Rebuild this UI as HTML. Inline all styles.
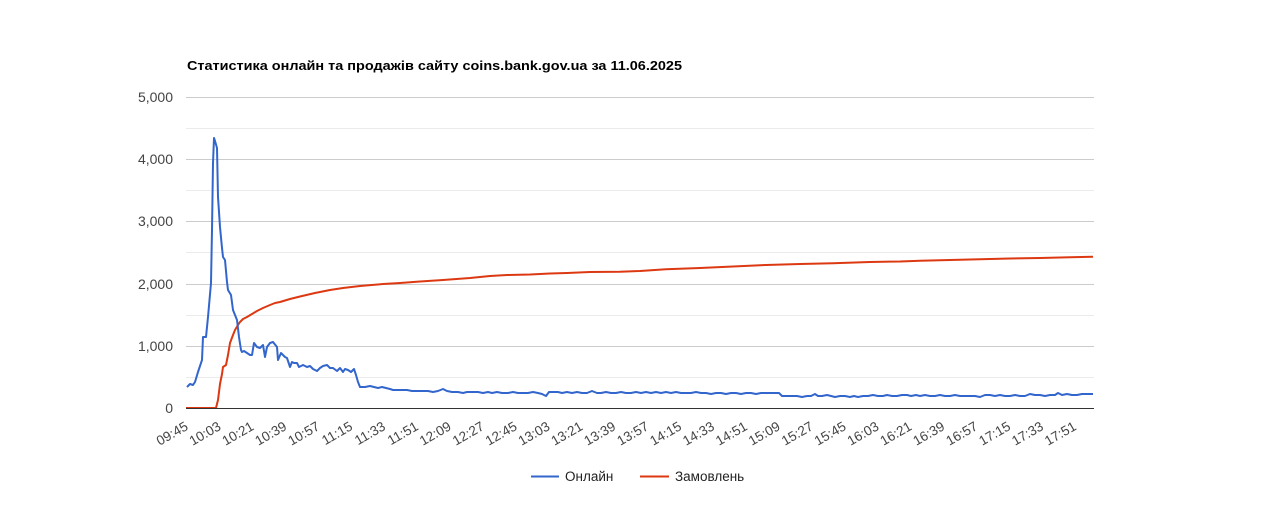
<!DOCTYPE html>
<html><head><meta charset="utf-8"><style>
html,body{margin:0;padding:0;background:#fff;}
svg{display:block;}
text{font-family:"Liberation Sans","Noto Sans CJK SC",Arial,sans-serif;}
</style></head><body>
<svg width="1280" height="505" viewBox="0 0 1280 505" xmlns="http://www.w3.org/2000/svg">
<rect width="1280" height="505" fill="#fff"/>
<text x="187" y="70" font-size="13" font-weight="bold" fill="#000" textLength="495" lengthAdjust="spacingAndGlyphs">Статистика онлайн та продажів сайту coins.bank.gov.ua за 11.06.2025</text>
<g stroke="#ebebeb" stroke-width="1">
<line x1="186" x2="1094" y1="128.5" y2="128.5"/>
<line x1="186" x2="1094" y1="190.5" y2="190.5"/>
<line x1="186" x2="1094" y1="252.5" y2="252.5"/>
<line x1="186" x2="1094" y1="315.5" y2="315.5"/>
<line x1="186" x2="1094" y1="377.5" y2="377.5"/>
</g>
<g stroke="#cccccc" stroke-width="1">
<line x1="186" x2="1094" y1="97.5" y2="97.5"/>
<line x1="186" x2="1094" y1="159.5" y2="159.5"/>
<line x1="186" x2="1094" y1="221.5" y2="221.5"/>
<line x1="186" x2="1094" y1="284.5" y2="284.5"/>
<line x1="186" x2="1094" y1="346.5" y2="346.5"/>
</g>
<g font-size="14" fill="#444" text-anchor="end">
<text x="173" y="102">5,000</text>
<text x="173" y="164">4,000</text>
<text x="173" y="226">3,000</text>
<text x="173" y="289">2,000</text>
<text x="173" y="351">1,000</text>
<text x="173" y="413">0</text>
</g>
<polyline fill="none" stroke="#dc3912" stroke-width="2" stroke-linejoin="round" points="186,408 216,408 218,400 220,384 222,374 223,367 226,365 228,355 230,343 233,335 235,330 238,325 240,322 243,319 247,317 252,314 257,311 263,308 270,305 275,303 280,302 290,299 300,296.5 315,293 330,290 343,288 360,286 383,284 400,283 420,281.5 443,280 470,278 490,276 507,275 530,274.5 550,273.5 567,273 590,272 620,271.7 640,271 666,269.3 700,268 733,266.5 766,265 800,264 833,263.3 870,262 900,261.5 920,260.7 950,260 980,259.3 1010,258.5 1040,258 1070,257.3 1093,256.7"/>
<polyline fill="none" stroke="#3366cc" stroke-width="2" stroke-linejoin="round" points="187,387 190,384 193,385 195,382 198,372 200,366 202,360 203,337 206,337 208,317 211,283 212,230 213,163 214,138 215,141 217,148 218,197 220,227 222,248 223,257 225,260 227,282 228,290 231,295 233,310 237,320 239,337 241,350 242,352 244,351 247,353 250,355 252,355 254,343 257,347 260,348 263,345 265,357 267,347 270,343 273,342 277,347 278,360 281,353 285,357 287,358 290,367 292,362 294,363 297,363 299,367 303,365 307,367 310,366 313,369 317,371 320,368 323,366 327,365 330,368 333,368 337,371 340,368 343,372 345,369 348,370 351,372 354,369 356,375 358,382 360,387 365,387 370,386 374,387 378,388 382,387 386,388 390,389 393,390 398,390 402,390 407,390 412,391 418,391 423,391 428,391 433,392 438,391 443,389 447,391 452,392 458,392 463,393 467,392 472,392 478,392 483,393 488,392 492,393 497,392 502,393 508,393 513,392 518,393 523,393 528,393 533,392 538,393 542,394 546,396 549,392 553,392 558,392 562,393 567,392 572,393 577,392 582,393 587,393 592,391 597,393 601,393 606,392 611,393 616,393 621,392 626,393 631,393 636,392 641,393 646,392 651,393 656,392 661,393 666,392 671,393 676,392 681,393 686,393 691,393 696,392 701,393 706,393 711,394 716,393 721,393 726,394 731,393 736,393 741,394 746,393 751,393 756,394 761,393 766,393 771,393 776,393 779,393 782,396 787,396 792,396 797,396 802,397 807,396 811,396 815,394 818,396 822,396 827,395 831,396 835,397 840,396 845,396 850,397 854,396 858,397 863,396 868,396 873,395 878,396 883,396 887,395 892,396 897,396 902,395 907,395 911,396 916,395 920,396 925,395 930,396 935,396 940,395 945,396 950,396 955,395 960,396 965,396 970,396 975,396 980,397 985,395 990,395 995,396 1000,395 1005,396 1010,396 1015,395 1020,396 1025,396 1030,394 1035,395 1040,395 1045,396 1050,395 1055,395 1058,393 1062,395 1067,394 1072,395 1077,395 1082,394 1087,394 1093,394"/>
<line x1="186" x2="1094" y1="408.5" y2="408.5" stroke="#333" stroke-width="1"/>
<g font-size="13.5" fill="#444" text-anchor="end">
<text transform="translate(189,429) rotate(-30)">09:45</text>
<text transform="translate(221.9,429) rotate(-30)">10:03</text>
<text transform="translate(254.8,429) rotate(-30)">10:21</text>
<text transform="translate(287.7,429) rotate(-30)">10:39</text>
<text transform="translate(320.6,429) rotate(-30)">10:57</text>
<text transform="translate(353.5,429) rotate(-30)">11:15</text>
<text transform="translate(386.4,429) rotate(-30)">11:33</text>
<text transform="translate(419.3,429) rotate(-30)">11:51</text>
<text transform="translate(452.2,429) rotate(-30)">12:09</text>
<text transform="translate(485.1,429) rotate(-30)">12:27</text>
<text transform="translate(518,429) rotate(-30)">12:45</text>
<text transform="translate(550.9,429) rotate(-30)">13:03</text>
<text transform="translate(583.8,429) rotate(-30)">13:21</text>
<text transform="translate(616.7,429) rotate(-30)">13:39</text>
<text transform="translate(649.6,429) rotate(-30)">13:57</text>
<text transform="translate(682.5,429) rotate(-30)">14:15</text>
<text transform="translate(715.4,429) rotate(-30)">14:33</text>
<text transform="translate(748.3,429) rotate(-30)">14:51</text>
<text transform="translate(781.2,429) rotate(-30)">15:09</text>
<text transform="translate(814.1,429) rotate(-30)">15:27</text>
<text transform="translate(847,429) rotate(-30)">15:45</text>
<text transform="translate(879.9,429) rotate(-30)">16:03</text>
<text transform="translate(912.8,429) rotate(-30)">16:21</text>
<text transform="translate(945.7,429) rotate(-30)">16:39</text>
<text transform="translate(978.6,429) rotate(-30)">16:57</text>
<text transform="translate(1011.5,429) rotate(-30)">17:15</text>
<text transform="translate(1044.4,429) rotate(-30)">17:33</text>
<text transform="translate(1077.3,429) rotate(-30)">17:51</text>
</g>
<line x1="531" x2="559" y1="476.5" y2="476.5" stroke="#3366cc" stroke-width="2"/>
<text x="565" y="481" font-size="13.5" fill="#222">Онлайн</text>
<line x1="640" x2="669" y1="476.5" y2="476.5" stroke="#dc3912" stroke-width="2"/>
<text x="675" y="481" font-size="13.5" fill="#222">Замовлень</text>
</svg>
</body></html>
